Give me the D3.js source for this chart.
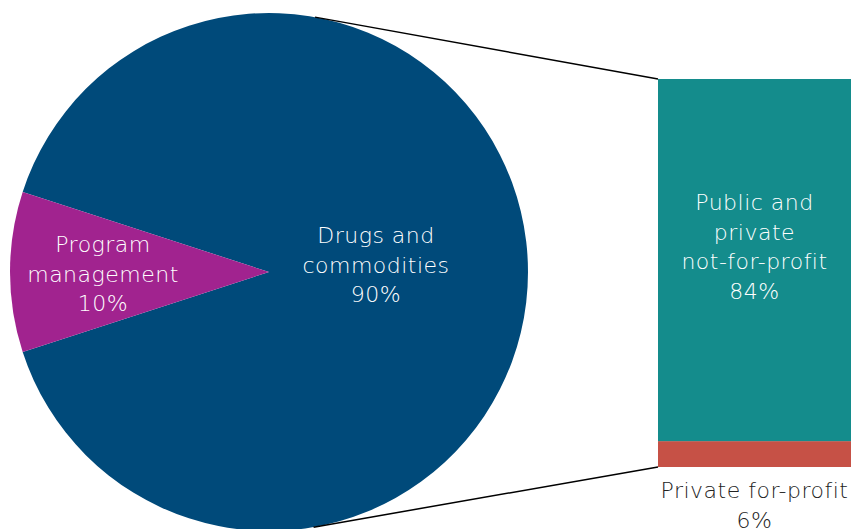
<!DOCTYPE html>
<html>
<head>
<meta charset="utf-8">
<script src="https://cdn.jsdelivr.net/npm/d3@7"></script>
<style>
  html, body { margin: 0; padding: 0; background: #fff; }
  svg { display: block; }
  text { font-family: "DejaVu Sans", sans-serif; font-weight: 200; letter-spacing: 0.5px; }
</style>
</head>
<body>
<svg width="851" height="529"></svg>
<script>
// pie data
var pieNames = ["Drugs and commodities", "Program management"];
var pieValues = [90, 10];
var pieLabels = [["Drugs and", "commodities", "90%"], ["Program", "management", "10%"]];
var pieColors = ["#004a7a", "#a1238f"];

// bar breakdown of drugs and commodities
var barNames = ["Private for-profit", "Public and private not-for-profit"];
var barValues = [6, 84];
var barLabels = [["Private for-profit", "6%"], ["Public and", "private", "not-for-profit", "84%"]];
var barColors = ["#c65146", "#148c8c"];

var svg = d3.select("svg");
var width = 851, height = 529;

var cx = 269, cy = 272, r = 259;
var barX = 658, barW = 193, barTop = 79, barBottom = 467;

var pie = d3.pie().sort(null)
    .startAngle(-72 * Math.PI / 180)
    .endAngle(288 * Math.PI / 180);
var arc = d3.arc().innerRadius(0).outerRadius(r);
var arcs = pie(pieValues);

var g = svg.append("g").attr("transform", "translate(" + cx + "," + cy + ")");
g.selectAll("path.slice").data(arcs).enter().append("path")
    .attr("class", "slice")
    .attr("d", arc)
    .attr("fill", function (d, i) { return pieColors[i]; });

// label positions for pie slices (relative to centre)
var pieLabelPos = [[107, -29], [-166, -20]];
var lh = 29.5;
var fs = 22;
arcs.forEach(function (a, i) {
    var t = g.append("text")
        .attr("text-anchor", "middle")
        .attr("fill", "#fff")
        .attr("font-size", fs);
    pieLabels[i].forEach(function (line, j) {
        t.append("tspan")
            .attr("x", pieLabelPos[i][0])
            .attr("y", pieLabelPos[i][1] + j * lh)
            .text(line);
    });
});

// bar
var y = d3.scaleLinear().domain([0, d3.sum(barValues)]).range([barBottom, barTop]);
var stack = [];
var acc = 0;
barValues.forEach(function (v, i) {
    stack.push({ y0: acc, y1: acc + v, i: i });
    acc += v;
});
svg.selectAll("rect.seg").data(stack).enter().append("rect")
    .attr("class", "seg")
    .attr("x", barX)
    .attr("width", barW)
    .attr("y", function (d) { return y(d.y1); })
    .attr("height", function (d) { return y(d.y0) - y(d.y1); })
    .attr("fill", function (d) { return barColors[d.i]; });

// labels on bar
var t1 = svg.append("text").attr("text-anchor", "middle").attr("fill", "#fff").attr("font-size", fs);
barLabels[1].forEach(function (line, j) {
    t1.append("tspan").attr("x", barX + barW / 2).attr("y", 210 + j * lh).text(line);
});
var t0 = svg.append("text").attr("text-anchor", "middle").attr("fill", "#222").attr("font-size", fs);
barLabels[0].forEach(function (line, j) {
    t0.append("tspan").attr("x", barX + barW / 2).attr("y", 498 + j * lh).text(line);
});

// tangent lines from bar corners to the pie
function tangent(px, py, side) {
    var dx = px - cx, dy = py - cy;
    var d = Math.sqrt(dx * dx + dy * dy);
    var base = Math.atan2(dy, dx);
    var off = Math.acos(r / d);
    var a = base + side * off;
    return [cx + r * Math.cos(a), cy + r * Math.sin(a)];
}
var corners = [[barX, y(d3.sum(barValues)), -1], [barX, y(0), 1]];
corners.forEach(function (c) {
    var p = tangent(c[0], c[1], c[2]);
    svg.append("line")
        .attr("x1", p[0]).attr("y1", p[1])
        .attr("x2", c[0]).attr("y2", c[1])
        .attr("stroke", "#000")
        .attr("stroke-width", 1.5);
});
</script>
</body>
</html>
